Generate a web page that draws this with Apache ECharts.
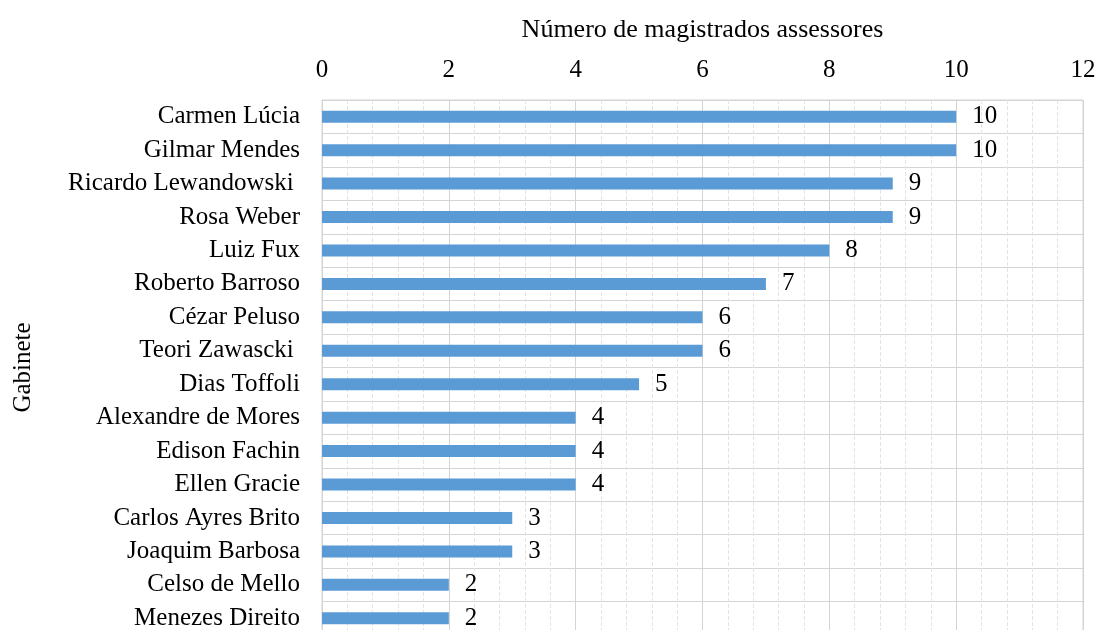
<!DOCTYPE html>
<html>
<head>
<meta charset="utf-8">
<script src="https://cdn.jsdelivr.net/npm/echarts@6/dist/echarts.min.js"></script>
<style>
  html, body { margin: 0; padding: 0; background: #fff; }
  #chart { width: 1099px; height: 630px; }
</style>
</head>
<body>
<div id="chart"></div>
<script>
// dados do gráfico
const gabinetes = ['Carmen Lúcia', 'Gilmar Mendes', 'Ricardo Lewandowski ', 'Rosa Weber', 'Luiz Fux',
  'Roberto Barroso', 'Cézar Peluso', 'Teori Zawascki ', 'Dias Toffoli', 'Alexandre de Mores',
  'Edison Fachin', 'Ellen Gracie', 'Carlos Ayres Brito', 'Joaquim Barbosa', 'Celso de Mello', 'Menezes Direito']
const assessores = [10, 10, 9, 9, 8, 7, 6, 6, 5, 4, 4, 4, 3, 3, 2, 2]
const tituloX = 'Número de magistrados assessores'
const tituloY = 'Gabinete'

const chart = echarts.init(document.getElementById('chart'))
const fonte = 'Liberation Serif, Times New Roman, serif'
const tam = 25

chart.setOption({
  animation: false,
  textStyle: { fontFamily: fonte },
  grid: {
    left: 322,
    top: 100,
    width: 761,
    height: 535,
    outerBoundsMode: 'none',
    containLabel: false,
    show: true,
    borderColor: '#d4d4d4',
    borderWidth: 1
  },
  xAxis: {
    type: 'value',
    position: 'top',
    min: 0,
    max: 12,
    interval: 2,
    name: tituloX,
    nameLocation: 'middle',
    nameGap: 57,
    nameTextStyle: { fontFamily: fonte, fontSize: 26, color: '#000' },
    axisLine: { show: false },
    axisTick: { show: false },
    axisLabel: { fontFamily: fonte, fontSize: tam, color: '#000', margin: 17 },
    splitLine: { lineStyle: { color: '#d4d4d4', width: 1 } },
    minorTick: { show: false, splitNumber: 5 },
    minorSplitLine: { show: true, lineStyle: { color: '#e4e4e4', type: 'dashed', width: 1 } }
  },
  yAxis: {
    type: 'category',
    inverse: true,
    data: gabinetes,
    name: tituloY,
    nameLocation: 'middle',
    nameGap: 286,
    nameRotate: 90,
    nameTextStyle: { fontFamily: fonte, fontSize: tam, color: '#000' },
    axisLine: { show: false },
    axisTick: { show: false },
    axisLabel: { fontFamily: fonte, fontSize: tam, color: '#000', margin: 22 },
    splitLine: { show: true, lineStyle: { color: '#d4d4d4', width: 1 } }
  },
  series: [{
    type: 'bar',
    data: assessores,
    barWidth: 12,
    itemStyle: { color: '#5b9bd5' },
    label: {
      show: true,
      position: 'right',
      distance: 16,
      fontFamily: fonte,
      fontSize: tam,
      color: '#000'
    }
  }]
})
</script>
</body>
</html>
